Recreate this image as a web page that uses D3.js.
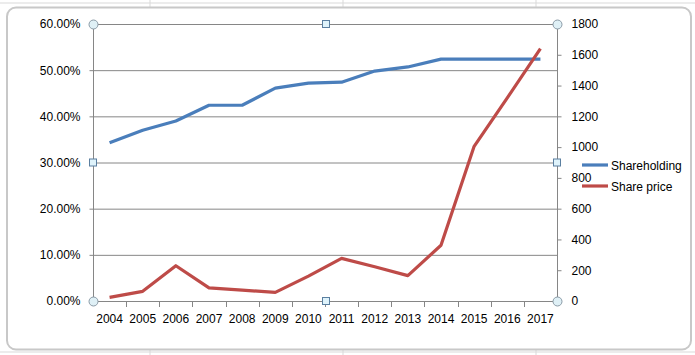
<!DOCTYPE html>
<html><head><meta charset="utf-8">
<script src="https://cdn.jsdelivr.net/npm/d3@7"></script>
<style>body{margin:0;background:#fff}svg{display:block}text{font-family:"Liberation Sans",Arial,sans-serif;font-size:12px;fill:#000}</style>
</head><body><svg id="c" width="695" height="355"></svg>
<script>
const years = ["2004","2005","2006","2007","2008","2009","2010","2011","2012","2013","2014","2015","2016","2017"];
const shareholding = [0.343,0.370,0.390,0.424,0.424,0.461,0.472,0.474,0.498,0.507,0.524,0.524,0.524,0.524];
const sharePrice = [24,63,229,85,71,56,162,277,223,165,362,1005,1320,1640];
const leftTicks = [0,0.1,0.2,0.3,0.4,0.5,0.6];
const rightTicks = [0,200,400,600,800,1000,1200,1400,1600,1800];
const seriesNames = ["Shareholding","Share price"];
const colors = ["#4a7ebb","#be4b48"];

const svg = d3.select("#c");
// spreadsheet background grid
const bg = svg.append("g");
[150,343,536].forEach(x=>bg.append("line").attr("x1",x).attr("x2",x).attr("y1",0).attr("y2",355).attr("stroke","#d9d9d9"));
[3,352].forEach(y=>bg.append("line").attr("x1",0).attr("x2",695).attr("y1",y).attr("y2",y).attr("stroke","#d9d9d9"));
// chart area
svg.append("rect").attr("x",7).attr("y",7.5).attr("width",684).attr("height",342).attr("rx",9)
  .attr("fill","#fff").attr("stroke","#c8c8c8").attr("stroke-width",2);

const L=93,R=557,T=24,B=301;
const x = d3.scaleBand().domain(years).range([L,R]);
const yL = d3.scaleLinear().domain([0,0.6]).range([B,T]);
const yR = d3.scaleLinear().domain([0,1800]).range([B,T]);

// gridlines
svg.append("g").selectAll("line").data(leftTicks).join("line")
  .attr("x1",L).attr("x2",R).attr("y1",d=>yL(d)+0.5).attr("y2",d=>yL(d)+0.5).attr("stroke","#868686");

const axL = svg.append("g").attr("transform",`translate(${L+0.5},0)`)
  .call(d3.axisLeft(yL).tickValues(leftTicks).tickFormat(d3.format(".2%")).tickSize(4).tickPadding(9));
const axR = svg.append("g").attr("transform",`translate(${R+0.5},0)`)
  .call(d3.axisRight(yR).tickValues(rightTicks).tickFormat(d3.format("d")).tickSize(4).tickPadding(10));
const axB = svg.append("g").attr("transform",`translate(0,${B+0.5})`)
  .call(d3.axisBottom(x).tickSize(0).tickPadding(13));
// category boundary ticks
svg.append("g").selectAll("line").data(years.slice(1)).join("line")
  .attr("x1",d=>Math.round(x(d))+0.5).attr("x2",d=>Math.round(x(d))+0.5).attr("y1",B).attr("y2",B+6).attr("stroke","#868686");
[axL,axR,axB].forEach(a=>{a.selectAll("path,line").attr("stroke","#868686");a.selectAll("text").style("font-family","Liberation Sans, Arial").style("font-size","12px").attr("fill","#000");a.select(".domain").attr("stroke","#868686");});
axL.select(".domain").attr("d",`M0,${T}V${B}`);
axR.select(".domain").attr("d",`M0,${T}V${B}`);
axB.select(".domain").attr("d",`M${L},0H${R}`);

const cx = d=>x(d)+x.bandwidth()/2;
const line1 = d3.line().x((d,i)=>cx(years[i])).y(d=>yL(d));
const line2 = d3.line().x((d,i)=>cx(years[i])).y(d=>yR(d));
svg.append("path").attr("d",line1(shareholding)).attr("fill","none").attr("stroke",colors[0]).attr("stroke-width",3.2).attr("stroke-linejoin","round");
svg.append("path").attr("d",line2(sharePrice)).attr("fill","none").attr("stroke",colors[1]).attr("stroke-width",3.2).attr("stroke-linejoin","round");

// legend
seriesNames.forEach((n,i)=>{
  const y = 165 + i*21;
  svg.append("line").attr("x1",582).attr("x2",608).attr("y1",y).attr("y2",y).attr("stroke",colors[i]).attr("stroke-width",3.2);
  svg.append("text").attr("x",611).attr("y",y+4.5).text(n);
});

// selection handles
const mid = (L+R)/2+1, midY=(T+B)/2;
[[L,T],[R,T],[L,B],[R,B]].forEach(p=>svg.append("circle").attr("cx",p[0]+0.5).attr("cy",p[1]+0.5).attr("r",4.5).attr("fill","#dff0f6").attr("stroke","#8a9aa6"));
[[mid,T],[mid,B],[L,midY],[R,midY]].forEach(p=>svg.append("rect").attr("x",p[0]-3.5).attr("y",p[1]-3.5).attr("width",7).attr("height",7).attr("fill","#dff3fb").attr("stroke","#5b7fa0"));
</script></body></html>
